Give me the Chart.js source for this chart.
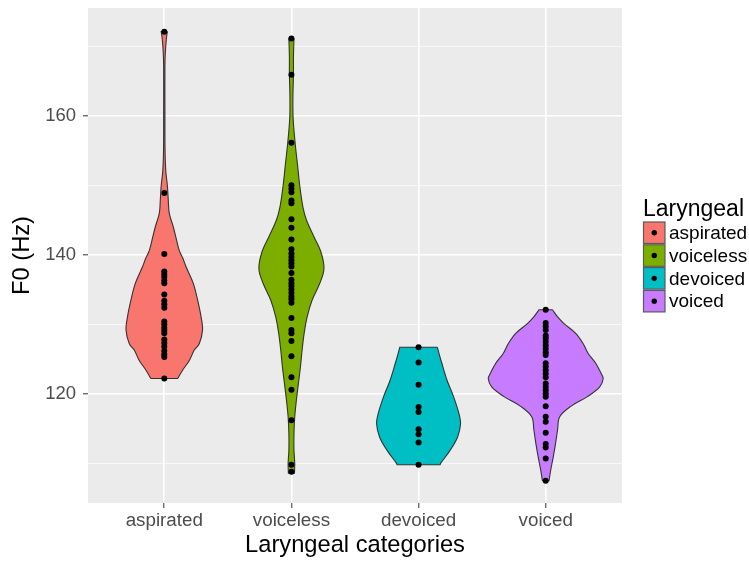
<!DOCTYPE html>
<html>
<head>
<meta charset="utf-8">
<script src="https://cdn.jsdelivr.net/npm/chart.js@4.4.1/dist/chart.umd.min.js"></script>
<style>
  html, body { margin: 0; padding: 0; background: #ffffff; }
  canvas { display: block; }
</style>
</head>
<body>
<canvas id="chart" width="749" height="563"></canvas>
<script>
// Laryngeal categories on the x axis
const categories = ['aspirated', 'voiceless', 'devoiced', 'voiced'];
const fillColors = ['#F8766D', '#7CAE00', '#00BFC4', '#C77CFF'];

// Individual F0 measurements (Hz) per category
const f0Aspirated = [172.1, 148.9, 140.1, 137.6, 137.2, 136.8, 136.3, 135.9, 134.3, 133.4, 132.9, 132.4,
  130.4, 130.0, 129.5, 129.1, 128.7, 127.8, 127.3, 126.8, 126.2, 125.7, 125.3, 122.2];
const f0Voiceless = [171.1, 165.9, 156.1, 150.0, 149.5, 149.0, 147.8, 147.4, 145.1, 143.9, 142.2, 140.8,
  140.2, 139.7, 139.2, 138.8, 138.3, 137.4, 136.4, 135.9, 135.5, 135.0, 134.5, 134.0, 133.6, 133.1,
  130.9, 129.2, 128.7, 127.6, 125.4, 122.4, 120.6, 116.2, 109.8, 108.8];
const f0Devoiced = [126.7, 124.5, 121.3, 118.1, 117.4, 114.9, 114.2, 113.0, 109.8];
const f0Voiced = [132.1, 130.2, 129.7, 129.2, 128.4, 128.0, 127.5, 127.0, 126.5, 126.0, 125.6, 124.4, 123.9,
  123.4, 122.9, 122.4, 121.5, 121.0, 120.5, 120.0, 119.6, 118.2, 116.7, 116.0, 114.4, 112.8, 112.3,
  110.7, 107.5];

// Violin outlines: F0 levels (top to bottom) and density half-widths in category units
const violinAspiratedF0 = [172.1, 171, 169, 167, 160, 155, 152, 150, 148, 146, 144, 142, 140.6, 139.5,
  138.2, 135.9, 133.5, 131.1, 129.2, 127.2, 126.3, 124.8, 123.4, 122.2];
const violinAspiratedWidth = [0.024, 0.016, 0.008, 0.005, 0.005, 0.006, 0.012, 0.024, 0.031, 0.039, 0.071,
  0.098, 0.118, 0.146, 0.173, 0.228, 0.262, 0.289, 0.301, 0.275, 0.236, 0.197, 0.144, 0.105];
const violinVoicelessF0 = [171.1, 168.5, 165.9, 163, 159.8, 156.1, 153.1, 150, 146.9, 145, 142.6, 140.4,
  138, 135.9, 133.5, 131.1, 128.7, 126.3, 123.9, 121.5, 119.1, 116.7, 114.3, 111.9, 110, 108.6];
const violinVoicelessWidth = [0.020, 0.016, 0.016, 0.012, 0.013, 0.029, 0.047, 0.065, 0.090, 0.118, 0.177,
  0.232, 0.256, 0.223, 0.163, 0.124, 0.100, 0.084, 0.071, 0.055, 0.039, 0.026, 0.020, 0.020, 0.026, 0.024];
const violinDevoicedF0 = [126.7, 125.8, 124.4, 122, 119.6, 117.2, 115.7, 113.8, 111.9, 110, 109.8];
const violinDevoicedWidth = [0.148, 0.161, 0.183, 0.223, 0.275, 0.317, 0.330, 0.307, 0.249, 0.173, 0.169];
const violinVoicedF0 = [132.1, 131.1, 130.1, 128.7, 127.2, 125.8, 124.4, 122.9, 122.2, 121, 119.6, 118.2,
  116.7, 114.8, 112.8, 110.9, 109, 107.5];
const violinVoicedWidth = [0.053, 0.092, 0.144, 0.236, 0.295, 0.334, 0.393, 0.437, 0.452, 0.425, 0.328,
  0.197, 0.110, 0.093, 0.077, 0.059, 0.039, 0.026];

// Axis ticks
const yMajorTicks = [120, 140, 160];
const yMinorTicks = [110, 130, 150, 170];
const xTicks = [1, 2, 3, 4];

const pointSets = [f0Aspirated, f0Voiceless, f0Devoiced, f0Voiced];
const violinLevels = [violinAspiratedF0, violinVoicelessF0, violinDevoicedF0, violinVoicedF0];
const violinWidths = [violinAspiratedWidth, violinVoicelessWidth, violinDevoicedWidth, violinVoicedWidth];

// Closed outline: right side top->bottom, then left side bottom->top.
// The trimmed top/bottom corners are repeated so the spline keeps them sharp.
function violinOutline(center, levels, widths) {
  const n = levels.length;
  const right = levels.map((lv, i) => ({ x: center + widths[i], y: lv }));
  const left = levels.map((lv, i) => ({ x: center - widths[i], y: lv })).reverse();
  const pts = [right[0], ...right, right[n - 1], left[0], ...left, left[n - 1], right[0]];
  return pts.map(p => ({ x: p.x, y: p.y }));
}

const datasets = [];
categories.forEach((cat, i) => {
  datasets.push({
    type: 'line',
    label: cat,
    data: violinOutline(i + 1, violinLevels[i], violinWidths[i]),
    backgroundColor: fillColors[i],
    borderColor: '#333333',
    borderWidth: 1.1,
    fill: 'shape',
    tension: 0.35,
    pointRadius: 0,
    order: 2
  });
});
categories.forEach((cat, i) => {
  datasets.push({
    type: 'scatter',
    label: cat + ' points',
    data: pointSets[i].map(v => ({ x: i + 1, y: v })),
    backgroundColor: '#000000',
    borderWidth: 0,
    pointRadius: 3,
    order: 1
  });
});

const SANS = '"Liberation Sans", Arial, sans-serif';

const panelBackground = {
  id: 'panelBackground',
  beforeDraw(chart) {
    const { ctx, chartArea: a } = chart;
    ctx.save();
    ctx.fillStyle = '#EBEBEB';
    ctx.fillRect(a.left, a.top, a.right - a.left, a.bottom - a.top);
    ctx.restore();
  }
};

const titlesAndLegend = {
  id: 'titlesAndLegend',
  afterDraw(chart) {
    const { ctx, chartArea: a } = chart;
    ctx.save();
    ctx.fillStyle = '#000000';
    ctx.font = '23.7px ' + SANS;
    ctx.textAlign = 'center';
    ctx.textBaseline = 'middle';
    ctx.fillText('Laryngeal categories', (a.left + a.right) / 2, 545);
    ctx.save();
    ctx.translate(22.5, (a.top + a.bottom) / 2);
    ctx.rotate(-Math.PI / 2);
    ctx.fillText('F0 (Hz)', 0, 0);
    ctx.restore();

    // legend
    ctx.textAlign = 'left';
    ctx.textBaseline = 'alphabetic';
    ctx.font = '23px ' + SANS;
    ctx.fillText('Laryngeal', 643, 215.5);
    ctx.font = '19px ' + SANS;
    ctx.textBaseline = 'middle';
    categories.forEach((cat, i) => {
      const top = 222 + i * 22.8;
      const size = 21.5;
      ctx.fillStyle = fillColors[i];
      ctx.fillRect(643.5, top, size, size);
      ctx.strokeStyle = '#5a5a5a';
      ctx.lineWidth = 1.2;
      ctx.strokeRect(643.5, top, size, size);
      ctx.fillStyle = '#000000';
      ctx.beginPath();
      ctx.arc(643.5 + size / 2, top + size / 2, 2.7, 0, Math.PI * 2);
      ctx.fill();
      ctx.fillText(cat, 669, top + size / 2 + 1);
    });
    ctx.restore();
  }
};

new Chart(document.getElementById('chart'), {
  data: { datasets },
  options: {
    responsive: false,
    animation: false,
    events: [],
    layout: { padding: { top: 8, right: 127, left: 0, bottom: 0 } },
    plugins: { legend: { display: false }, tooltip: { enabled: false } },
    scales: {
      x: {
        type: 'linear',
        min: 0.4,
        max: 4.6,
        afterBuildTicks: s => { s.ticks = xTicks.map(v => ({ value: v })); },
        afterFit: s => { s.height = 60; s.paddingLeft = 0; s.paddingRight = 0; },
        border: { display: false },
        grid: { color: '#FFFFFF', lineWidth: 1.6, tickColor: '#333333', tickLength: 5, tickWidth: 1 },
        ticks: {
          autoSkip: false,
          maxRotation: 0,
          padding: 2,
          color: '#4D4D4D',
          font: { family: SANS, size: 18.8 },
          callback: v => categories[v - 1]
        }
      },
      y: {
        type: 'linear',
        min: 104.3,
        max: 175.5,
        afterBuildTicks: s => {
          s.ticks = yMajorTicks.concat(yMinorTicks).sort((p, q) => p - q).map(v => ({ value: v }));
        },
        afterFit: s => { s.width = 88; s.paddingTop = 0; s.paddingBottom = 0; },
        border: { display: false },
        grid: {
          color: '#FFFFFF',
          lineWidth: c => (yMajorTicks.includes(c.tick.value) ? 1.6 : 0.7),
          tickColor: c => (yMajorTicks.includes(c.tick.value) ? '#333333' : 'rgba(0,0,0,0)'),
          tickLength: 5,
          tickWidth: 1
        },
        ticks: {
          autoSkip: false,
          padding: 7,
          color: '#4D4D4D',
          font: { family: SANS, size: 18.5 },
          callback: v => (yMajorTicks.includes(v) ? String(v) : '')
        }
      }
    }
  },
  plugins: [panelBackground, titlesAndLegend]
});
</script>
</body>
</html>
